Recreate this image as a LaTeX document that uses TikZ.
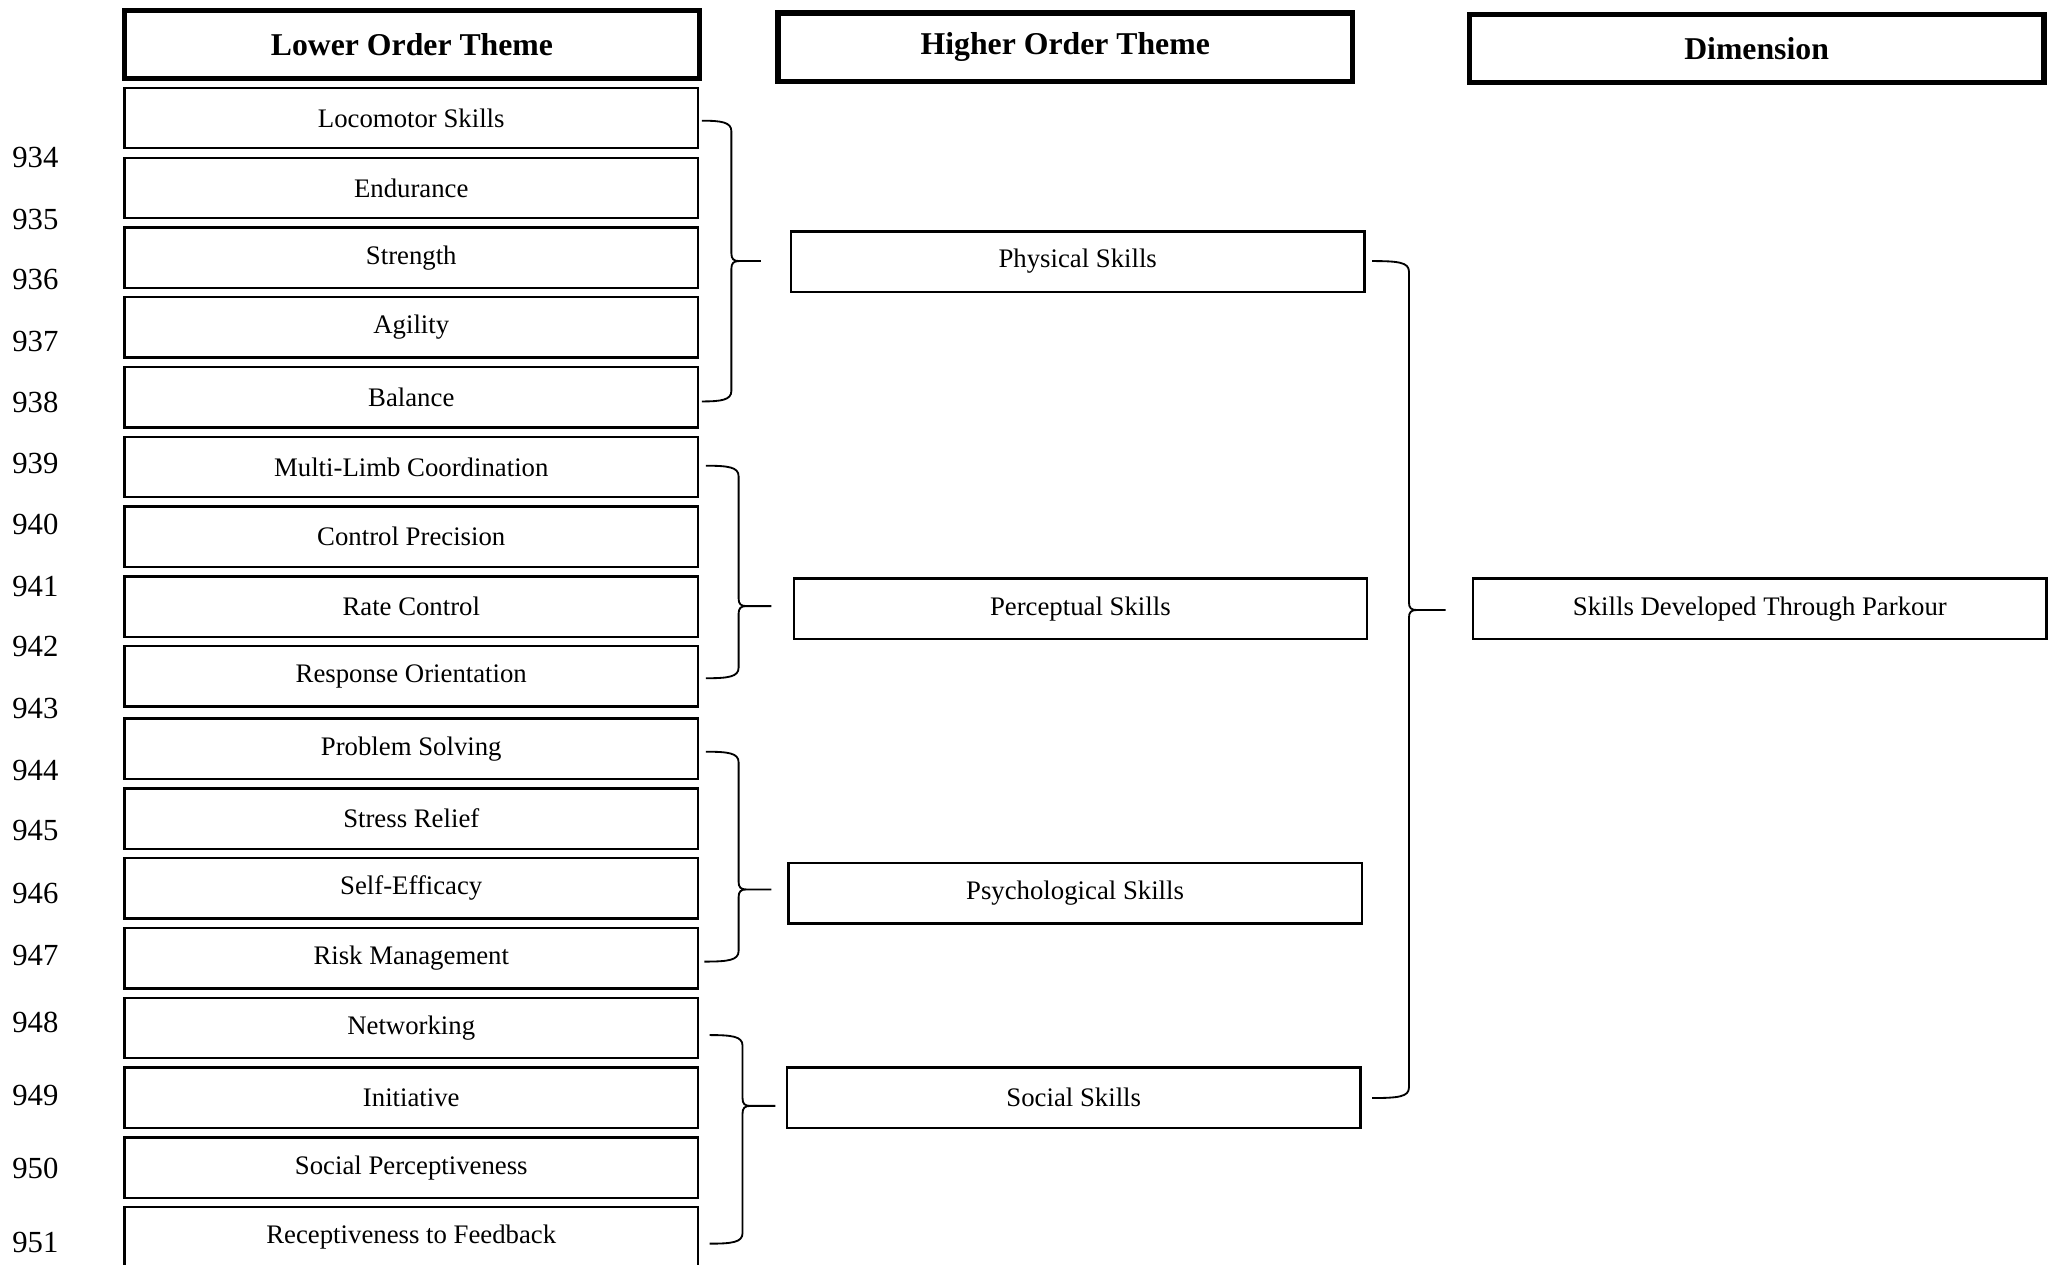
\documentclass[tikz,border=0pt]{standalone}
\usepackage{fontspec}
\setmainfont{Liberation Serif}
\usepackage{tikz}
\usetikzlibrary{calc,positioning}
\tikzstyle{header} = [rectangle, draw, line width=2pt, minimum width=219pt,
    minimum height=26pt, inner sep=0pt, font=\fontsize{12.1}{14}\selectfont\bfseries]
\tikzstyle{block} = [rectangle, draw, line width=0.9pt, minimum width=218.5pt,
    minimum height=23pt, inner sep=0pt, font=\fontsize{10.2}{12}\selectfont]
\tikzstyle{lineno} = [anchor=west, inner sep=0pt, font=\fontsize{11.7}{14}\selectfont]
\tikzstyle{braceline} = [draw, line width=0.7pt, line join=round]
% curly brace: top end, bottom end, tip
\newcommand{\skillbrace}[3]{%
  \path[braceline] let \p1=(#1), \p2=(#2), \p3=(#3), \n1={0.5*(\x1+\x3)} in
    (\p1) .. controls (\n1-4pt,\y1) and (\n1,\y1-0.5pt) .. (\n1,\y1-4pt)
    -- (\n1,\y3+3pt) .. controls (\n1,\y3+0.8pt) and (\n1+0.8pt,\y3) .. (\n1+3pt,\y3) -- (\p3)
    (\p3) -- (\n1+3pt,\y3) .. controls (\n1+0.8pt,\y3) and (\n1,\y3-0.8pt) .. (\n1,\y3-3pt)
    -- (\n1,\y2+4pt) .. controls (\n1,\y2+0.5pt) and (\n1-4pt,\y2) .. (\p2);
}

\begin{document}
\begin{tikzpicture}[x=0.5pt, y=0.5pt, node distance=26.6pt]
  \useasboundingbox (0,0) rectangle (1568,-964);
  % headers
  \node [header] (lowhead) at (314,-34) {Lower Order Theme};
  \node [header, right of = lowhead, node distance = 249pt, yshift=-1pt] (highhead) {Higher Order Theme};
  \node [header, right of = highhead, node distance = 263.5pt, yshift=-0.5pt] (dimhead) {Dimension};
  % lower order themes
  \node [block] (loco) at (313.5,-90) {Locomotor Skills};
  \node [block, below of = loco] (endur) {Endurance};
  \node [block, below of = endur] (strength) {Strength};
  \node [block, below of = strength] (agility) {Agility};
  \node [block, below of = agility] (balance) {Balance};
  \node [block, below of = balance] (multilimb) {Multi-Limb Coordination};
  \node [block, below of = multilimb] (control) {Control Precision};
  \node [block, below of = control] (rate) {Rate Control};
  \node [block, below of = rate] (response) {Response Orientation};
  \node [block, below of = response, node distance = 27.6pt] (problem) {Problem Solving};
  \node [block, below of = problem] (stress) {Stress Relief};
  \node [block, below of = stress] (selfeff) {Self-Efficacy};
  \node [block, below of = selfeff] (risk) {Risk Management};
  \node [block, below of = risk] (network) {Networking};
  \node [block, below of = network] (initiative) {Initiative};
  \node [block, below of = initiative] (socperc) {Social Perceptiveness};
  \node [block, below of = socperc] (recept) {Receptiveness to Feedback};
  % higher order themes
  \node [block, right of = strength, node distance = 254pt, yshift=-1.5pt] (physical) {Physical Skills};
  \node [block, right of = rate, node distance = 254pt, xshift=1pt, yshift=-0.8pt] (perceptual) {Perceptual Skills};
  \node [block, right of = selfeff, node distance = 254pt, xshift=-1pt, yshift=-1.9pt] (psycho) {Psychological Skills};
  \node [block, right of = initiative, node distance = 254pt, xshift=-1.5pt] (social) {Social Skills};
  % dimension
  \node [block, right of = perceptual, node distance = 259pt] (dimension) {Skills Developed Through Parkour};
  % line numbers
  \foreach \num/\ypos in {934/120, 935/167, 936/213, 937/260, 938/307, 939/353,
      940/400, 941/447, 942/493, 943/540, 944/587, 945/633, 946/681, 947/728,
      948/779, 949/835, 950/891, 951/947}
    \node [lineno] (ln\num) at (9,-\ypos) {\num};
  % braces
  \coordinate (phystop) at (535,-92);
  \coordinate (physbot) at (535,-306);
  \coordinate (phystip) at (580,-199);
  \coordinate (perctop) at (538,-355);
  \coordinate (percbot) at (538,-517);
  \coordinate (perctip) at (588,-462);
  \coordinate (psytop) at (538,-573);
  \coordinate (psybot) at (537,-733);
  \coordinate (psytip) at (588,-678);
  \coordinate (soctop) at (541,-789);
  \coordinate (socbot) at (541,-948);
  \coordinate (soctip) at (591,-843);
  \coordinate (dimtop) at (1046,-199);
  \coordinate (dimbot) at (1046,-837);
  \coordinate (dimtip) at (1102,-465);
  \skillbrace{phystop}{physbot}{phystip}
  \skillbrace{perctop}{percbot}{perctip}
  \skillbrace{psytop}{psybot}{psytip}
  \skillbrace{soctop}{socbot}{soctip}
  \skillbrace{dimtop}{dimbot}{dimtip}
\end{tikzpicture}
\end{document}
